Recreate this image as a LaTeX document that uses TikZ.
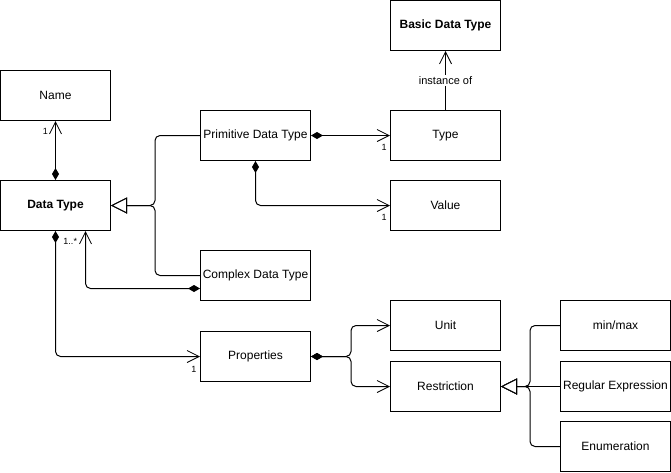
\documentclass[tikz,border=0pt]{standalone}
\usepackage{fontspec}
\setmainfont{Liberation Sans}
\usetikzlibrary{arrows.meta}
\begin{document}
\begin{tikzpicture}[x=1pt,y=-1pt,line width=1pt,
    box/.style={draw,minimum width=110pt,minimum height=50pt,inner sep=0pt,font=\fontsize{12}{14}\selectfont},
    mult/.style={font=\fontsize{9}{10}\selectfont,inner sep=0pt,anchor=north east},
    comp/.style={rounded corners=5pt,{Diamond[length=12pt,width=7pt]}-{Straight Barb[length=12pt,width=12pt,line width=0.8pt]}},
    gen/.style={rounded corners=5pt,-{Triangle[open,length=16pt,width=16pt,fill=white]}}]
        \useasboundingbox (-0.5,-0.5) rectangle (670.5,471.5);
        %% classes
        \node[box] (name) at (55,95) {Name};
        \node[box,font=\fontsize{12}{14}\selectfont\bfseries] (dtype) at (55,205) {Data Type};
        \node[box] (prim) at (255,135) {Primitive Data Type};
        \node[box] (cplx) at (255,275) {Complex Data Type};
        \node[box,font=\fontsize{12}{14}\selectfont\bfseries] (basic) at (445,25) {Basic Data Type};
        \node[box] (type) at (445,135) {Type};
        \node[box] (value) at (445,205) {Value};
        \node[box] (prop) at (255,356) {Properties};
        \node[box] (unit) at (445,325) {Unit};
        \node[box] (restr) at (445,386) {Restriction};
        \node[box] (minmax) at (615,325) {min/max};
        \node[box] (regex) at (615,386) {Regular Expression};
        \node[box] (enum) at (615,446) {Enumeration};
        %% data type relations
        \draw[comp] (dtype.north) -- (name.south) node[mult,xshift=-7pt,yshift=-7pt] {1};
        \draw[gen] (prim.west) -- ++(-45,0) |- (dtype.east);
        \draw[gen] (cplx.west) -- ++(-45,0) |- (dtype.east);
        \draw[comp] ([yshift=-13pt]cplx.west) -| ([xshift=30pt]dtype.south) node[mult,xshift=-8pt,yshift=-7pt] {1..*};
        \draw[comp] (dtype.south) |- (prop.west) node[mult,xshift=-3pt,yshift=-9pt] {1};
        %% primitive data type
        \draw[comp] (prim.east) -- (type.west) node[mult,xshift=-3pt,yshift=-8pt] {1};
        \draw[comp] (prim.south) |- (value.west) node[mult,xshift=-3pt,yshift=-8pt] {1};
        \draw[-{Straight Barb[length=12pt,width=12pt,line width=0.8pt]}] (type.north) -- (basic.south)
            node[pos=0.5,fill=white,inner sep=1pt,font=\fontsize{11}{13}\selectfont] {instance of};
        %% properties
        \draw[comp] (prop.east) -- ++(40,0) |- (unit.west);
        \draw[comp] (prop.east) -- ++(40,0) |- (restr.west);
        \draw[gen] (minmax.west) -- ++(-30,0) |- (restr.east);
        \draw[gen] (regex.west) -- (restr.east);
        \draw[gen] (enum.west) -- ++(-30,0) |- (restr.east);
    \end{tikzpicture}
\end{document}
